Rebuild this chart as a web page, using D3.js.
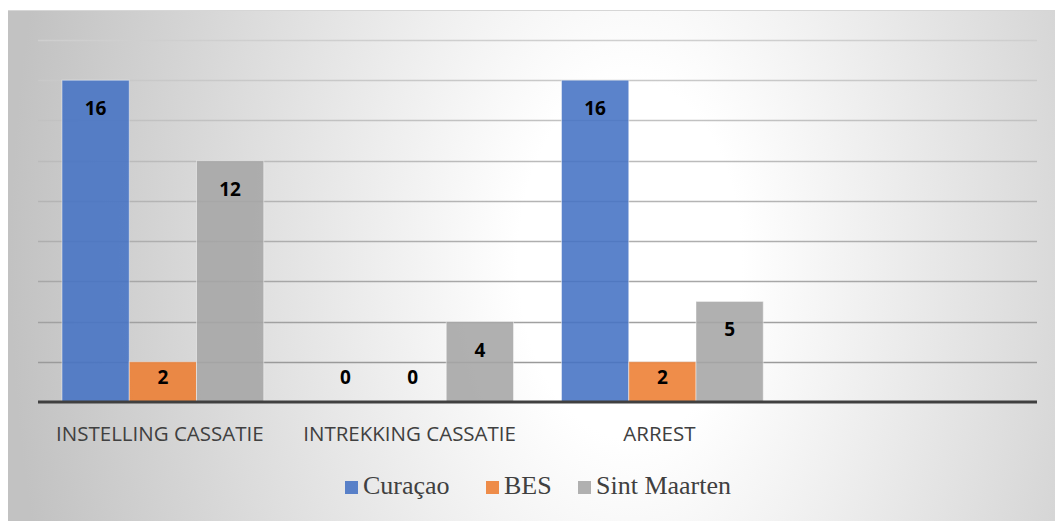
<!DOCTYPE html>
<html>
<head>
<meta charset="utf-8">
<script src="https://cdn.jsdelivr.net/npm/d3@7"></script>
<style>
  body { margin: 0; background: #fff; }
  svg { display: block; }
</style>
</head>
<body>
<div id="chart"></div>
<script>
var width = 1055;
var height = 521;

// data
var categories = ["INSTELLING CASSATIE", "INTREKKING CASSATIE", "ARREST", ""];
var seriesNames = ["Curaçao", "BES", "Sint Maarten"];
var curacao = [16, 0, 16];
var bes = [2, 0, 2];
var sintMaarten = [12, 4, 5];
var yTicks = [0, 2, 4, 6, 8, 10, 12, 14, 16, 18];

var seriesValues = [curacao, bes, sintMaarten];
var colors = ["#4472C4", "#ED7D31", "#A5A5A5"];

var svg = d3.select("#chart")
    .append("svg")
    .attr("width", width)
    .attr("height", height);

var defs = svg.append("defs");

// chart area background: soft radial shading
var bg = defs.append("radialGradient")
    .attr("id", "bgGrad")
    .attr("gradientUnits", "userSpaceOnUse")
    .attr("cx", 630).attr("cy", 260).attr("r", 620)
    .attr("gradientTransform", "translate(630,260) scale(1,1.6) translate(-630,-260)");
bg.append("stop").attr("offset", "0").attr("stop-color", "#ffffff");
bg.append("stop").attr("offset", "0.18").attr("stop-color", "#ffffff");
bg.append("stop").attr("offset", "1").attr("stop-color", "#c2c2c2");

var gridGrad = defs.append("linearGradient")
    .attr("id", "gridGrad")
    .attr("gradientUnits", "userSpaceOnUse")
    .attr("x1", 0).attr("y1", 40).attr("x2", 0).attr("y2", 362);
gridGrad.append("stop").attr("offset", "0").attr("stop-color", "#cfcfcf");
gridGrad.append("stop").attr("offset", "1").attr("stop-color", "#9a9a9a");

svg.append("rect")
    .attr("x", 8).attr("y", 10)
    .attr("width", width - 8).attr("height", height - 10)
    .attr("fill", "url(#bgGrad)");

svg.append("line")
    .attr("x1", 8).attr("x2", width)
    .attr("y1", 10.5).attr("y2", 10.5)
    .attr("stroke", "#d6d6d6");

var x0 = d3.scaleBand()
    .domain(categories)
    .range([38, 1037])
    .padding(0);

var x1 = d3.scaleBand()
    .domain(seriesNames)
    .range([0, x0.bandwidth()])
    .paddingInner(0)
    .paddingOuter(0.357);

var y = d3.scaleLinear()
    .domain([0, 18])
    .range([402, 40]);

// gridlines
svg.append("g")
    .attr("class", "grid")
    .selectAll("line")
    .data(yTicks.filter(function (t) { return t > 0; }))
    .enter().append("line")
    .attr("x1", 38).attr("x2", 1037)
    .attr("y1", function (d) { return Math.round(y(d)) + 0.5; })
    .attr("y2", function (d) { return Math.round(y(d)) + 0.5; })
    .attr("stroke", "url(#gridGrad)")
    .attr("stroke-width", 1.5);

// build flat list of bars
var bars = [];
categories.forEach(function (cat, i) {
    seriesNames.forEach(function (s, j) {
        if (seriesValues[j][i] !== undefined) {
            bars.push({cat: cat, series: s, value: seriesValues[j][i], color: colors[j]});
        }
    });
});

svg.append("g")
    .attr("class", "bars")
    .selectAll("rect")
    .data(bars.filter(function (d) { return d.value > 0; }))
    .enter().append("rect")
    .attr("x", function (d) { return x0(d.cat) + x1(d.series); })
    .attr("y", function (d) { return y(d.value); })
    .attr("width", x1.bandwidth())
    .attr("height", function (d) { return y(0) - y(d.value); })
    .attr("fill", function (d) { return d.color; })
    .attr("fill-opacity", 0.88)
    .attr("stroke", "#ffffff")
    .attr("stroke-opacity", 0.45)
    .attr("stroke-width", 1);

// baseline
svg.append("line")
    .attr("x1", 38).attr("x2", 1037)
    .attr("y1", y(0)).attr("y2", y(0))
    .attr("stroke", "#404040")
    .attr("stroke-width", 3);

// value labels (inside end, kept above the axis for short bars)
svg.append("g")
    .attr("class", "labels")
    .selectAll("text")
    .data(bars)
    .enter().append("text")
    .attr("x", function (d) { return x0(d.cat) + x1(d.series) + x1.bandwidth() / 2; })
    .attr("y", function (d) { return Math.min(y(d.value) + 28, y(0) - 25) + 7; })
    .attr("text-anchor", "middle")
    .attr("font-family", "'Open Sans', sans-serif")
    .attr("font-weight", "bold")
    .attr("font-size", "19px")
    .attr("fill", "#000")
    .text(function (d) { return d.value; });

// category labels
svg.append("g")
    .attr("class", "xlabels")
    .selectAll("text")
    .data(categories.filter(function (c) { return c !== ""; }))
    .enter().append("text")
    .attr("x", function (d) { return x0(d) + x0.bandwidth() / 2 - 3; })
    .attr("y", 441)
    .attr("text-anchor", "middle")
    .attr("font-family", "'Open Sans', sans-serif")
    .attr("font-size", "20.5px")
    .attr("fill", "#404040")
    .text(function (d) { return d; });

// legend
var legendX = [345, 486, 578];
var legend = svg.append("g").attr("class", "legend")
    .selectAll("g")
    .data(seriesNames)
    .enter().append("g")
    .attr("transform", function (d, i) { return "translate(" + legendX[i] + ",0)"; });

legend.append("rect")
    .attr("x", 0).attr("y", 481)
    .attr("width", 13).attr("height", 13)
    .attr("fill", function (d, i) { return colors[i]; })
    .attr("fill-opacity", 0.88);

legend.append("text")
    .attr("x", 18)
    .attr("y", 494)
    .attr("font-family", "'Liberation Serif', serif")
    .attr("font-size", "26px")
    .attr("fill", "#404040")
    .text(function (d) { return d; });
</script>
</body>
</html>
